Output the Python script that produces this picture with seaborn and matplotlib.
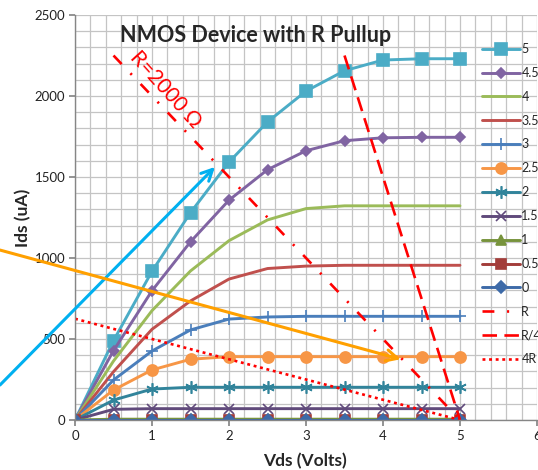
import matplotlib
matplotlib.use("Agg")
import matplotlib.pyplot as plt
from matplotlib.ticker import MultipleLocator
import seaborn as sns
import pandas as pd

# ---------------- data ----------------
vds = [0, 0.5, 1, 1.5, 2, 2.5, 3, 3.5, 4, 4.5, 5]
vgs_labels = ["5", "4.5", "4", "3.5", "3", "2.5", "2", "1.5", "1", "0.5", "0"]
ids_5 = [0, 490, 918, 1280, 1592, 1840, 2030, 2156, 2222, 2230, 2230]
ids_45 = [0, 428, 798, 1100, 1357, 1545, 1662, 1724, 1742, 1745, 1745]
ids_4 = [0, 364, 675, 920, 1107, 1235, 1305, 1322, 1322, 1322, 1322]
ids_35 = [0, 298, 560, 735, 870, 935, 950, 955, 955, 955, 955]
ids_3 = [0, 247, 426, 556, 623, 636, 640, 640, 640, 640, 640]
ids_25 = [0, 185, 309, 375, 391, 391, 391, 391, 391, 391, 391]
ids_2 = [0, 123, 191, 202, 202, 202, 202, 202, 202, 202, 202]
ids_15 = [0, 66, 70, 70, 70, 70, 70, 70, 70, 70, 70]
ids_1 = [0, 5, 5, 5, 5, 5, 5, 5, 5, 5, 5]
ids_05 = [0, 0, 0, 0, 0, 0, 0, 0, 0, 0, 0]
ids_0 = [0, 0, 0, 0, 0, 0, 0, 0, 0, 0, 0]

load_r_vds = [0.5, 1, 1.5, 2, 2.5, 3, 3.5, 4, 4.5, 5]
load_r_ids = [2250, 2000, 1750, 1500, 1250, 1000, 750, 500, 250, 0]
load_r4_vds = [3.5, 4, 4.5, 5]
load_r4_ids = [2250, 1500, 750, 0]
load_4r_vds = [0, 0.5, 1, 1.5, 2, 2.5, 3, 3.5, 4, 4.5, 5]
load_4r_ids = [625, 562.5, 500, 437.5, 375, 312.5, 250, 187.5, 125, 62.5, 0]

x_ticks = [0, 1, 2, 3, 4, 5, 6]
y_ticks = [0, 500, 1000, 1500, 2000, 2500]

curves = [ids_5, ids_45, ids_4, ids_35, ids_3, ids_25, ids_2, ids_15, ids_1, ids_05, ids_0]

# ---------------- styles ----------------
styles = {
    "5":   dict(color="#4BACC6", marker="s", ms=8),
    "4.5": dict(color="#8064A2", marker="D", ms=5.5),
    "4":   dict(color="#9BBB59", marker=None, ms=0),
    "3.5": dict(color="#C0504D", marker=None, ms=0),
    "3":   dict(color="#4A7EBB", marker="+", ms=8),
    "2.5": dict(color="#F79646", marker="o", ms=8),
    "2":   dict(color="#31849B", marker=(6, 2, 0), ms=9),
    "1.5": dict(color="#604A7B", marker="x", ms=7),
    "1":   dict(color="#77933C", marker="^", ms=6.5),
    "0.5": dict(color="#A33D3A", marker="s", ms=7.5),
    "0":   dict(color="#3D6AA8", marker="D", ms=6),
}

sns.set_theme(style="white")
plt.rcParams["font.family"] = ["Lato", "DejaVu Sans"]

fig = plt.figure(figsize=(5.38, 4.70), dpi=100)
ax = fig.add_axes([75 / 538, 50 / 470, 462 / 538, 405 / 470])

for lab, ys in zip(vgs_labels, curves):
    st = styles[lab]
    df = pd.DataFrame({"Vds": vds, "Ids": ys})
    kw = {}
    if st["marker"] is not None:
        kw = dict(marker=st["marker"], markersize=st["ms"],
                  markeredgecolor=st["color"], markerfacecolor=st["color"],
                  markeredgewidth=1.2)
    sns.lineplot(data=df, x="Vds", y="Ids", ax=ax, color=st["color"], lw=2.1,
                 label=lab, **kw)

red = "#FF0000"
sns.lineplot(x=load_r_vds, y=load_r_ids, ax=ax, color=red, lw=1.9,
             label="R", dashes=False)
ax.lines[-1].set_dashes((4.5, 4.8, 0.8, 4.8))
sns.lineplot(x=load_r4_vds, y=load_r4_ids, ax=ax, color=red, lw=1.9,
             label="R/4")
ax.lines[-1].set_dashes((5.5, 2.8))
sns.lineplot(x=load_4r_vds, y=load_4r_ids, ax=ax, color=red, lw=1.9,
             label="4R")
ax.lines[-1].set_dashes((1.1, 1.4))

# ---------------- axes ----------------
ax.set_xlim(0, 6)
ax.set_ylim(0, 2500)
ax.set_xticks(x_ticks)
ax.set_yticks(y_ticks)
ax.xaxis.set_minor_locator(MultipleLocator(0.2))
ax.yaxis.set_minor_locator(MultipleLocator(100))
ax.grid(which="both", color="#C4C4C4", lw=0.9)
ax.set_axisbelow(True)
for s in ["top", "right"]:
    ax.spines[s].set_visible(False)
for s in ["left", "bottom"]:
    ax.spines[s].set_color("#868686")
    ax.spines[s].set_linewidth(1.0)
ax.tick_params(which="major", length=4, direction="out", color="#868686",
               labelsize=9.5, labelcolor="#222222", pad=3, left=True, bottom=True)
ax.tick_params(which="minor", length=0)
ax.set_xlabel("")
ax.set_ylabel("")

fig.text(305 / 538, 1 - 461 / 470, "Vds (Volts)", ha="center", va="center",
         fontsize=12.5, fontweight="bold")
fig.text(23 / 538, 1 - 218 / 470, "Ids (uA)", ha="center", va="center",
         fontsize=12.5, fontweight="bold", rotation=90)
fig.text(256 / 538, 1 - 35 / 470, "NMOS Device with R Pullup", ha="center",
         va="center", fontsize=15.5, fontweight="bold")

ax.text(1.17, 2040, "R=2000 Ω", rotation=-48, color=red, fontsize=15,
        ha="center", va="center", rotation_mode="anchor")

# annotation arrows
ax.annotate("", xy=(1.818, 1562), xytext=(-0.974, 216),
            arrowprops=dict(arrowstyle="->", color="#00B0F0", lw=2.2,
                            mutation_scale=20, shrinkA=0, shrinkB=0),
            annotation_clip=False)
ax.annotate("", xy=(4.23, 375), xytext=(-0.974, 1049),
            arrowprops=dict(arrowstyle="->", color="#FFA000", lw=2.2,
                            mutation_scale=20, shrinkA=0, shrinkB=0),
            annotation_clip=False)

# legend
handles, labels = ax.get_legend_handles_labels()
leg = ax.legend(handles, labels, loc="upper left",
                bbox_to_anchor=(482 / 538, 1 - 43 / 470),
                bbox_transform=fig.transFigure, frameon=False, fontsize=9,
                handlelength=3.0, handletextpad=0.15, labelspacing=0.95,
                borderpad=0, borderaxespad=0, numpoints=1)

fig.savefig("out.png", dpi=100)
